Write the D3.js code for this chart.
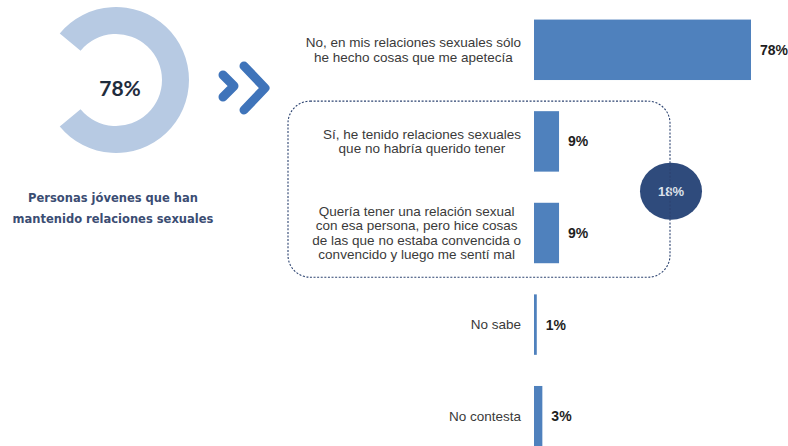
<!DOCTYPE html>
<html>
<head>
<meta charset="utf-8">
<script src="https://cdn.jsdelivr.net/npm/d3@7"></script>
<style>
  body { margin: 0; background: #fff; }
  svg { display: block; }
</style>
</head>
<body>
<div id="chart"></div>
<script>
// Data
const categories = [
  ["No, en mis relaciones sexuales sólo", "he hecho cosas que me apetecía"],
  ["Sí, he tenido relaciones sexuales", "que no habría querido tener"],
  ["Quería tener una relación sexual", "con esa persona, pero hice cosas", "de las que no estaba convencida o", "convencido y luego me sentí mal"],
  ["No sabe"],
  ["No contesta"]
];
const values = [78, 9, 9, 1, 3];
const groupedIdx = [1, 2];          // answers inside the dashed box
const groupTotal = 18;              // circle label
const donutValue = 78;
const donutCaption = ["Personas jóvenes que han", "mantenido relaciones sexuales"];

const W = 788, H = 446;
const barColor = '#4f81bd';

const svg = d3.select('#chart').append('svg').attr('width', W).attr('height', H);

// ---- left donut --------------------------------------------------------
const cx = 116, cy = 80;
const gapAngle = (1 - donutValue / 100) * Math.PI;   // half of the gap, gap centred on the left
const pie = d3.pie().sort(null)
  .startAngle(-Math.PI / 2 + gapAngle)
  .endAngle(-Math.PI / 2 + gapAngle + 2 * Math.PI);
const arc = d3.arc().innerRadius(46).outerRadius(73);

const donut = svg.append('g').attr('transform', `translate(${cx},${cy})`);
donut.selectAll('path')
  .data(pie([donutValue, 100 - donutValue]).slice(0, 1))
  .enter().append('path')
  .attr('d', arc)
  .attr('fill', '#b7cae3');

donut.append('text')
  .attr('x', 4).attr('y', 16)
  .attr('text-anchor', 'middle')
  .style('font-family', 'Lato, "DejaVu Sans", sans-serif')
  .style('font-weight', 700)
  .style('font-size', '21px')
  .style('fill', '#1f2c3d')
  .text(d3.format('.0f')(donutValue) + '%');

svg.append('text')
  .attr('text-anchor', 'middle')
  .style('font-family', '"DejaVu Sans", sans-serif')
  .style('font-weight', 700)
  .style('font-size', '11.5px')
  .style('fill', '#3b4d73')
  .selectAll('tspan')
  .data(donutCaption)
  .enter().append('tspan')
  .attr('x', 113)
  .attr('y', (d, i) => 202 + i * 21)
  .text(d => d);

// ---- chevrons ">>" ----------------------------------------------------
const chevrons = [
  [[223, 75], [234, 86], [223, 97]],
  [[244, 66], [265, 88], [244, 110]]
];
svg.append('g').selectAll('path')
  .data(chevrons)
  .enter().append('path')
  .attr('d', d3.line())
  .attr('fill', 'none')
  .attr('stroke', '#3f74ba')
  .attr('stroke-width', 9)
  .attr('stroke-linecap', 'round')
  .attr('stroke-linejoin', 'round');

// ---- bars --------------------------------------------------------------
const x = d3.scaleLinear().domain([0, 78]).range([534, 751]);
const y = d3.scaleBand()
  .domain(d3.range(values.length))
  .range([4, 462])
  .paddingInner(0.34)
  .paddingOuter(0.17);

const labelRight = 521;
const lineH = 14.5;

// circle for the grouped total (under the dashed box line)
const gTop = y(groupedIdx[0]) - 10;
const gBottom = y(groupedIdx[groupedIdx.length - 1]) + y.bandwidth() + 14;
const gLeft = 288, gRight = 670;
const circleY = (gTop + gBottom) / 2 + 2;

svg.append('ellipse')
  .attr('cx', gRight + 1).attr('cy', circleY)
  .attr('rx', 31).attr('ry', 28.5)
  .attr('fill', '#2f4b7c');

svg.append('text')
  .attr('x', gRight + 1).attr('y', circleY)
  .attr('dy', '0.35em')
  .attr('text-anchor', 'middle')
  .style('font-family', '"Liberation Sans", Arial, sans-serif')
  .style('font-weight', 700)
  .style('font-size', '13px')
  .style('fill', '#dde2ea')
  .text(groupTotal + '%');

svg.append('rect')
  .attr('x', gLeft).attr('y', gTop)
  .attr('width', gRight - gLeft).attr('height', gBottom - gTop)
  .attr('rx', 22).attr('ry', 22)
  .attr('fill', 'none')
  .attr('stroke', '#2c4370')
  .attr('stroke-width', 1.1)
  .attr('stroke-dasharray', '2,1.6');

const rows = svg.append('g').selectAll('g.row')
  .data(values.map((v, i) => ({ value: v, lines: categories[i], i })))
  .enter().append('g').attr('class', 'row');

rows.append('rect')
  .attr('x', x(0))
  .attr('y', d => y(d.i))
  .attr('width', d => x(d.value) - x(0))
  .attr('height', y.bandwidth())
  .attr('fill', barColor);

rows.append('text')
  .attr('x', d => x(d.value) + 9)
  .attr('y', d => y(d.i) + y.bandwidth() / 2)
  .attr('dy', '0.35em')
  .style('font-family', '"Liberation Sans", Arial, sans-serif')
  .style('font-weight', 700)
  .style('font-size', '14px')
  .style('fill', '#1e1e1e')
  .text(d => d.value + '%');

// category labels: lines centred on each other, block right-aligned
rows.each(function(d) {
  const t = d3.select(this).append('text')
    .attr('text-anchor', 'middle')
    .style('font-family', '"Liberation Sans", Arial, sans-serif')
    .style('font-size', '13.5px')
    .style('fill', '#3a3a3a');
  const mid = y(d.i) + y.bandwidth() / 2;
  const n = d.lines.length;
  const spans = t.selectAll('tspan').data(d.lines).enter().append('tspan')
    .attr('y', (l, k) => mid + (k - (n - 1) / 2) * lineH)
    .attr('dy', '0.35em')
    .text(l => l);
  let maxW = 0;
  spans.each(function() { maxW = Math.max(maxW, this.getComputedTextLength()); });
  spans.attr('x', labelRight - maxW / 2);
});
</script>
</body>
</html>
